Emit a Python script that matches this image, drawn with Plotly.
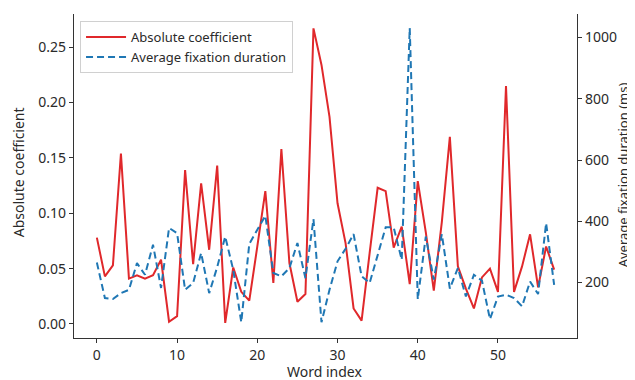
import plotly.graph_objects as go

word_index = list(range(58))
abs_coef = [0.078, 0.043, 0.053, 0.154, 0.041, 0.044, 0.041, 0.044, 0.058, 0.002,
            0.007, 0.139, 0.054, 0.127, 0.067, 0.143, 0.001, 0.051, 0.029, 0.021,
            0.070, 0.120, 0.037, 0.158, 0.055, 0.020, 0.027, 0.267, 0.234, 0.187,
            0.109, 0.073, 0.014, 0.003, 0.064, 0.123, 0.120, 0.069, 0.088, 0.036,
            0.129, 0.083, 0.030, 0.092, 0.169, 0.052, 0.032, 0.014, 0.042, 0.050,
            0.029, 0.215, 0.029, 0.052, 0.081, 0.033, 0.070, 0.049]
fix_dur = [265, 149, 146, 165, 176, 263, 225, 323, 182, 378,
           361, 176, 198, 296, 165, 250, 350, 241, 70, 326,
           372, 418, 231, 220, 247, 329, 214, 407, 70, 176,
           269, 310, 358, 220, 198, 285, 380, 380, 274, 1031,
           145, 350, 209, 358, 180, 247, 154, 225, 206, 80,
           154, 160, 149, 122, 203, 162, 394, 192]

x_ticks = [0, 10, 20, 30, 40, 50]
y_ticks = [0.00, 0.05, 0.10, 0.15, 0.20, 0.25]
y_ticklabels = ["0.00", "0.05", "0.10", "0.15", "0.20", "0.25"]
y2_ticks = [200, 400, 600, 800, 1000]

FONT = "Noto Sans"
AX = "#333333"
TXT = "#2a2a2a"

fig = go.Figure()
fig.add_trace(go.Scatter(x=word_index, y=abs_coef, mode="lines",
                         name="Absolute coefficient",
                         line=dict(color="#e0282b", width=2)))
fig.add_trace(go.Scatter(x=word_index, y=fix_dur, mode="lines",
                         name="Average fixation duration", yaxis="y2",
                         line=dict(color="#1f77b4", width=2, dash="7px,4px")))

# page body has an 8px margin, so the figure is offset by 8px
fig.update_layout(
    width=627, height=372,
    margin=dict(l=66, r=58, t=6, b=42, autoexpand=False),
    paper_bgcolor="white", plot_bgcolor="white",
    font=dict(family=FONT, size=14, color=TXT),
    showlegend=True,
    legend=dict(x=0.012, y=0.978, xanchor="left", yanchor="top",
                bgcolor="rgba(255,255,255,0.9)", bordercolor="#d0d0d0", borderwidth=1,
                font=dict(family=FONT, size=13, color=TXT),
                tracegroupgap=0, itemwidth=40),
    xaxis=dict(range=[-2.85, 59.85], tickvals=x_ticks, showgrid=False, zeroline=False,
               showline=True, linecolor=AX, linewidth=1.2, ticks="outside", ticklen=4,
               tickcolor=AX, tickfont=dict(size=14, color=TXT)),
    yaxis=dict(range=[-0.0127, 0.280], tickvals=y_ticks, ticktext=y_ticklabels,
               showgrid=False, zeroline=False, showline=True, linecolor=AX, linewidth=1.2,
               ticks="outside", ticklen=4, tickcolor=AX, tickfont=dict(size=14, color=TXT)),
    yaxis2=dict(range=[18.5, 1077], tickvals=y2_ticks, overlaying="y", side="right",
                showgrid=False, zeroline=False, showline=True, linecolor=AX, linewidth=1.2,
                ticks="outside", ticklen=4, tickcolor=AX, tickfont=dict(size=14, color=TXT)),
    annotations=[
        dict(text="Word index", xref="paper", yref="paper", x=0.499, y=-0.104,
             xanchor="center", yanchor="middle", showarrow=False,
             font=dict(size=14, color=TXT)),
        dict(text="Absolute coefficient", xref="paper", yref="paper", x=-0.111, y=0.512,
             xanchor="center", yanchor="middle", textangle=-90, showarrow=False,
             font=dict(size=14, color=TXT)),
        dict(text="Average fixation duration (ms)", xref="paper", yref="paper", x=1.092,
             y=0.503, xanchor="center", yanchor="middle", textangle=-90, showarrow=False,
             font=dict(size=13, color=TXT)),
    ],
)

fig.write_html("out.html")
